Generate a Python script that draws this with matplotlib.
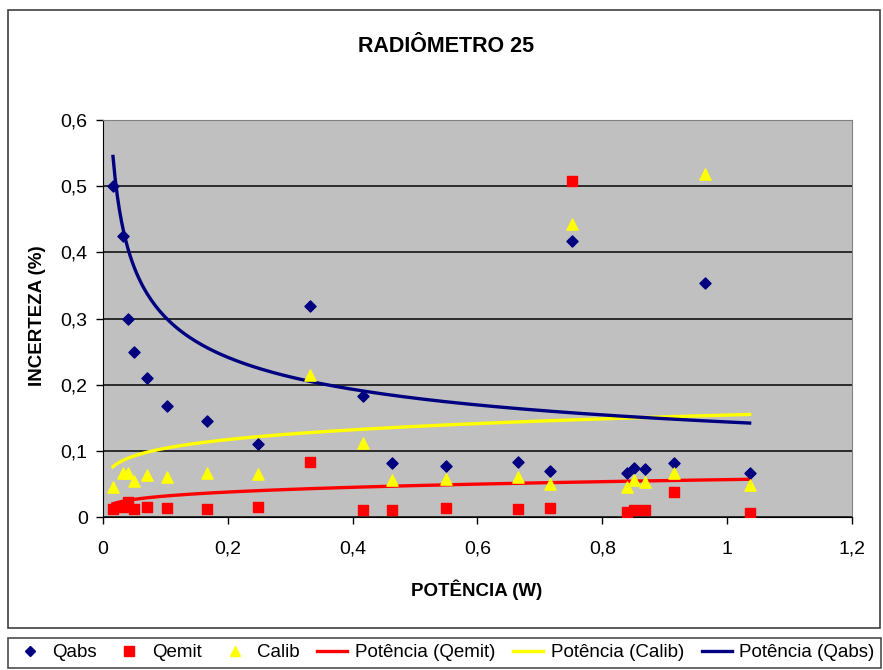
import matplotlib
matplotlib.use('Agg')
import matplotlib.pyplot as plt
import numpy as np
from matplotlib.patches import Rectangle
from matplotlib.lines import Line2D

plt.rcParams['font.family'] = ['Liberation Sans', 'DejaVu Sans']

# data
pot = [0.016, 0.032, 0.040, 0.050, 0.071, 0.103, 0.166, 0.249, 0.332, 0.416, 0.463,
       0.550, 0.665, 0.716, 0.751, 0.839, 0.851, 0.869, 0.915, 0.965, 1.036]
qabs = [0.501, 0.424, 0.300, 0.250, 0.210, 0.168, 0.145, 0.111, 0.319, 0.183, 0.082,
        0.077, 0.0835, 0.069, 0.417, 0.067, 0.074, 0.072, 0.082, 0.354, 0.067]
qemit = [0.0116, 0.0156, 0.023, 0.0116, 0.0156, 0.013, 0.012, 0.0156, 0.083, 0.011, 0.011,
         0.013, 0.012, 0.013, 0.508, 0.008, 0.011, 0.011, 0.038, np.nan, 0.0065]
calib = [0.046, 0.066, 0.066, 0.055, 0.063, 0.060, 0.066, 0.0645, 0.2145, 0.112, 0.056,
         0.057, 0.060, 0.050, 0.4426, 0.046, 0.056, 0.053, 0.067, 0.519, 0.048]

# power trendlines y = a * x^b (coefficients)
trend_qemit = (0.0565, 0.251)
trend_calib = (0.1541, 0.171)
trend_qabs = (0.1436, -0.3225)

xticks = [0, 0.2, 0.4, 0.6, 0.8, 1.0, 1.2]
yticks = [0, 0.1, 0.2, 0.3, 0.4, 0.5, 0.6]

W, H = 883, 670
fig = plt.figure(figsize=(W/100, H/100), dpi=100)
ax = fig.add_axes([103/W, 1-517/H, (852-103)/W, (517-120)/H])
ax.set_facecolor('#c0c0c0')

# chart area frame
fig.patches.append(Rectangle((8/W, 1-628/H), 872/W, 618/H, transform=fig.transFigure,
                             fill=False, ec='#404040', lw=1.2))

ax.set_xlim(0, 1.2)
ax.set_ylim(0, 0.6)
ax.set_xticks(xticks)
ax.set_yticks(yticks)
ax.set_xticklabels([('%g' % v).replace('.', ',') for v in xticks])
ax.set_yticklabels([('%g' % v).replace('.', ',') for v in yticks])
ax.tick_params(direction='out', length=5, width=1, labelsize=14, colors='black', pad=6)
ax.tick_params(axis='x', pad=12)
ax.yaxis.grid(True, color='#202020', lw=1.3)
ax.set_axisbelow(True)
for s in ['top', 'right']:
    ax.spines[s].set_color('#808080')
for s in ['left', 'bottom']:
    ax.spines[s].set_color('black')

ax.scatter(pot, qabs, marker='D', s=32, color='#000080', zorder=3)
ax.scatter(pot, qemit, marker='s', s=50, color='#ff0000', zorder=3)
ax.scatter(pot, calib, marker='^', s=65, color='#ffff00', zorder=3)

xs = np.linspace(min(pot), max(pot), 300)
for (a, b), c in [(trend_qemit, '#ff0000'), (trend_calib, '#ffff00'), (trend_qabs, '#000080')]:
    ax.plot(xs, a * xs ** b, color=c, lw=2.4, zorder=2)

fig.text(446/W, 1-47/H, 'RADIÔMETRO 25', ha='center', va='center', fontsize=15.5, fontweight='bold')
fig.text(477/W, 1-590/H, 'POTÊNCIA (W)', ha='center', va='center', fontsize=13.5, fontweight='bold')
fig.text(37/W, 1-316/H, 'INCERTEZA (%)', ha='center', va='center', rotation=90,
         fontsize=13.5, fontweight='bold')

handles = [
    Line2D([], [], ls='none', marker='D', ms=5, color='#000080'),
    Line2D([], [], ls='none', marker='s', ms=7, color='#ff0000'),
    Line2D([], [], ls='none', marker='^', ms=7, color='#ffff00'),
    Line2D([], [], color='#ff0000', lw=2.4),
    Line2D([], [], color='#ffff00', lw=2.4),
    Line2D([], [], color='#000080', lw=2.4),
]
labels = ['Qabs', 'Qemit', 'Calib', 'Potência (Qemit)', 'Potência (Calib)', 'Potência (Qabs)']
leg = fig.legend(handles, labels, loc='lower left', mode='expand',
                 bbox_to_anchor=(8/W, 1-668/H, 873/W, 40/H), ncol=6,
                 fontsize=13.5, frameon=True, fancybox=False, edgecolor='#202020',
                 handlelength=1.6, handletextpad=0.4, columnspacing=0.5, borderpad=0.35,
                 borderaxespad=0)
leg.get_frame().set_linewidth(1.2)

fig.savefig('out.png', dpi=100)
